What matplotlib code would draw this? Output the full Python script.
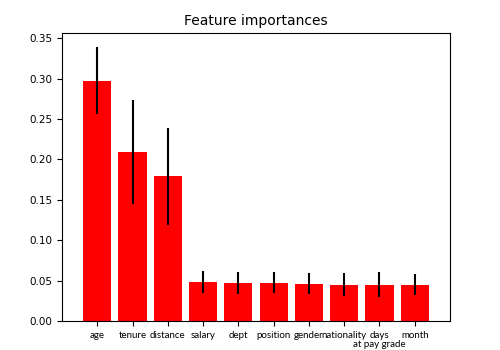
import matplotlib
matplotlib.use("Agg")
import matplotlib.pyplot as plt

features = ["age", "tenure", "distance", "salary", "dept", "position",
            "gender", "nationality", "days\nat pay grade", "month"]
importances = [0.2975, 0.209, 0.179, 0.048, 0.047, 0.047, 0.0463, 0.045, 0.045, 0.045]
errors = [0.042, 0.064, 0.060, 0.014, 0.0135, 0.013, 0.0135, 0.014, 0.015, 0.0135]

fig = plt.figure(figsize=(5, 3.5), dpi=100)
ax = fig.add_axes([0.124, 0.083, 0.776, 0.823])
x = range(len(features))
ax.bar(x, importances, color="red", yerr=errors, align="center",
       error_kw=dict(ecolor="black", elinewidth=1.5))
ax.set_xticks(list(x))
ax.set_xticklabels(features, fontfamily="Lato", fontsize=7, linespacing=1.1)
ax.set_xlim(-1, 10)
ax.tick_params(axis="y", labelsize=7.5)
ax.set_title("Feature importances", fontsize=10)
fig.savefig("out.png", dpi=100)
